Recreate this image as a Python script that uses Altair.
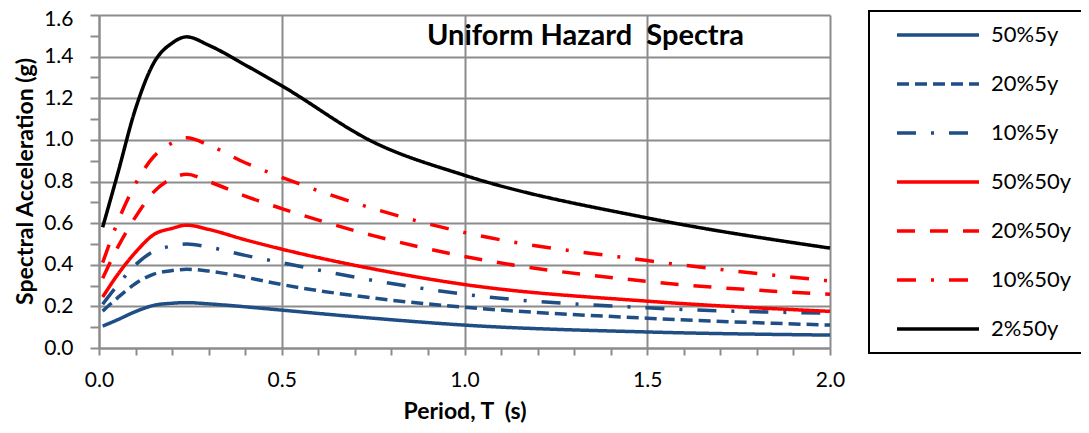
import altair as alt
import pandas as pd

periods = [0.01, 0.05, 0.1, 0.15, 0.2, 0.24, 0.3, 0.4, 0.5, 0.75, 1.0, 1.5, 2.0]

s_50_5 = [0.105, 0.135, 0.175, 0.205, 0.215, 0.218, 0.212, 0.198, 0.182, 0.143, 0.110, 0.077, 0.062]
s_20_5 = [0.177, 0.240, 0.310, 0.355, 0.372, 0.378, 0.370, 0.340, 0.305, 0.240, 0.196, 0.143, 0.110]
s_10_5 = [0.210, 0.300, 0.400, 0.465, 0.490, 0.500, 0.485, 0.445, 0.410, 0.325, 0.258, 0.193, 0.167]
s_50_50 = [0.245, 0.350, 0.460, 0.545, 0.575, 0.590, 0.570, 0.520, 0.475, 0.380, 0.305, 0.225, 0.176]
s_20_50 = [0.335, 0.480, 0.630, 0.750, 0.815, 0.835, 0.800, 0.730, 0.670, 0.540, 0.440, 0.320, 0.258]
s_10_50 = [0.410, 0.600, 0.790, 0.920, 0.985, 1.010, 0.975, 0.890, 0.820, 0.670, 0.555, 0.420, 0.322]
s_2_50 = [0.580, 0.830, 1.150, 1.370, 1.465, 1.495, 1.455, 1.360, 1.260, 0.990, 0.830, 0.625, 0.480]

series_names = ["50%5y", "20%5y", "10%5y", "50%50y", "20%50y", "10%50y", "2%50y"]
series_values = [s_50_5, s_20_5, s_10_5, s_50_50, s_20_50, s_10_50, s_2_50]
series_colors = ["#1F4E85", "#1F4E85", "#1F4E85", "#FF0000", "#FF0000", "#FF0000", "#000000"]
series_dashes = [[1, 0], [12, 6], [19, 15, 3, 15], [1, 0], [18, 15], [19, 15, 3, 15], [1, 0]]

x_ticks = [round(0.1 * i, 1) for i in range(21)]
y_ticks = [round(0.1 * i, 1) for i in range(17)]

rows = []
for name, vals in zip(series_names, series_values):
    for t, v in zip(periods, vals):
        rows.append({"T": t, "Sa": v, "series": name})
df = pd.DataFrame(rows)

FONT = "Lato"
GRID = "#8C8C8C"

x_axis = alt.Axis(
    values=x_ticks,
    labelExpr="abs(datum.value*2 - round(datum.value*2)) < 0.01 ? format(datum.value, '.1f') : ''",
    gridOpacity={"condition": {"test": "abs(datum.value*2 - round(datum.value*2)) < 0.01", "value": 1}, "value": 0},
    grid=True, gridColor=GRID, gridWidth=2,
    domainColor=GRID, domainWidth=2,
    tickColor=GRID, tickWidth=2, tickSize=7,
    labelFont=FONT, labelFontSize=21, labelColor="#000000", labelPadding=14,
    labelFlush=False, labelOverlap=False,
    title="Period, T\u00a0 (s)", titleFont=FONT, titleFontSize=23, titleFontWeight="bold",
    titleColor="#000000", titleY=70, titleBaseline="alphabetic",
)
y_axis = alt.Axis(
    values=y_ticks,
    labelExpr="abs(datum.value*5 - round(datum.value*5)) < 0.01 ? format(datum.value, '.1f') : ''",
    gridOpacity={"condition": {"test": "abs(datum.value*5 - round(datum.value*5)) < 0.01", "value": 1}, "value": 0},
    labelOffset={"condition": {"test": "datum.value > 1.55", "value": 4}, "value": 0},
    grid=True, gridColor=GRID, gridWidth=2,
    domainColor=GRID, domainWidth=2,
    tickColor=GRID, tickWidth=2, tickSize=9,
    labelFont=FONT, labelFontSize=21, labelColor="#000000", labelPadding=17,
    labelFlush=False, labelOverlap=False,
    title="Spectral Acceleration (g)", titleFont=FONT, titleFontSize=23, titleFontWeight="bold",
    titleColor="#000000", titleX=-67, titleY=166, titleBaseline="alphabetic", titleAngle=-90,
)

legend = alt.Legend(
    title=None, orient="none", legendX=770, legendY=-4,
    symbolType="stroke", symbolSize=6724, symbolStrokeWidth=3.5,
    clipHeight=22, rowPadding=27, padding=13, symbolOffset=13, labelOffset=10,
    labelFont=FONT, labelFontSize=22, labelColor="#000000",
    strokeColor="#000000",
)

chart = alt.Chart(df).mark_line(strokeWidth=3.5, interpolate="monotone").encode(
    x=alt.X("T:Q", scale=alt.Scale(domain=[0, 2], nice=False), axis=x_axis),
    y=alt.Y("Sa:Q", scale=alt.Scale(domain=[0, 1.6], nice=False), axis=y_axis),
    color=alt.Color("series:N", scale=alt.Scale(domain=series_names, range=series_colors), legend=legend, sort=series_names),
    strokeDash=alt.StrokeDash("series:N", scale=alt.Scale(domain=series_names, range=series_dashes), legend=legend, sort=series_names),
    order=alt.Order("T:Q"),
).properties(
    width=731, height=333,
    title=alt.TitleParams("Uniform Hazard\u00a0 Spectra", font=FONT, fontSize=29, fontWeight="bold",
                          color="#000000", anchor="start", frame="group", dx=328, dy=43,
                          baseline="top", offset=0),
    autosize=alt.AutoSizeParams(type="none"),
    padding={"left": 91, "top": 7, "right": 251, "bottom": 77},
).configure_view(stroke=None).configure_legend(strokeWidth=2)

chart.save("out.html", embed_options={"renderer": "svg", "actions": False})
